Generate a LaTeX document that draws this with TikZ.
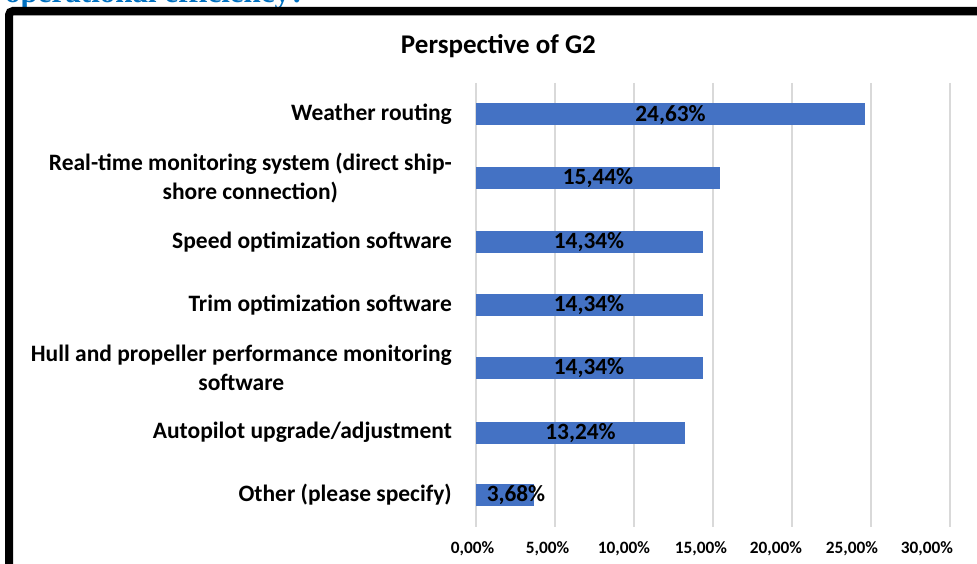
\documentclass[tikz,border=0pt]{standalone}
\usepackage{fontspec}
\setmainfont{Carlito}
\newfontfamily\serifb{Liberation Serif}
\definecolor{barblue}{HTML}{4472C4}
\definecolor{gridgray}{HTML}{D9D9D9}
\definecolor{toptext}{HTML}{0070C0}
\definecolor{framegray}{HTML}{A0A0A0}
\tikzset{
  cat/.style={font=\fontsize{23.5}{29}\selectfont\bfseries, align=center, anchor=east, inner sep=0pt},
  val/.style={font=\fontsize{23.3}{27}\selectfont\bfseries, inner sep=0pt},
  tick/.style={font=\fontsize{17.3}{20}\selectfont\bfseries, inner sep=0pt},
  barfill/.style={fill=barblue},
  gridline/.style={draw=gridgray, line width=1.5pt},
}
\begin{document}
\begin{tikzpicture}[x=1pt,y=-1pt]
\useasboundingbox (0,0) rectangle (977,564);
% cut-off question text
\node[anchor=base west, inner sep=0pt, font=\serifb\bfseries\fontsize{31}{34}\selectfont, text=toptext] (question) at (5,2.5) {operational efficiency?};
% frame
\draw[framegray, line width=1pt] (13,15.5) -- (980,15.5);
\draw[black, line width=8pt, rounded corners=4pt] (9,570) -- (9,11) -- (985,11);
% title
\node[font=\fontsize{27}{30}\selectfont\bfseries, inner sep=0pt] (title) at (498.5,46) {Perspective of G2};
% gridlines
\foreach \i in {0,...,6} {
  \draw[gridline] ({476+79*\i},83) -- ({476+79*\i},527);
}
% tick labels
\node[tick] (t0) at (472.5,549) {0,00\%};
\node[tick] (t1) at (547.5,549) {5,00\%};
\node[tick] (t2) at (624,549) {10,00\%};
\node[tick] (t3) at (701,549) {15,00\%};
\node[tick] (t4) at (776,549) {20,00\%};
\node[tick] (t5) at (852,549) {25,00\%};
\node[tick] (t6) at (927,549) {30,00\%};
% bars
\fill[barfill] (476,103.5) rectangle (865,125.5);
\fill[barfill] (476,167) rectangle (720,189);
\fill[barfill] (476,231) rectangle (702.5,253);
\fill[barfill] (476,294) rectangle (702.5,316);
\fill[barfill] (476,357) rectangle (702.5,379);
\fill[barfill] (476,421.5) rectangle (685,443.5);
\fill[barfill] (476,484) rectangle (534,506);
% value labels
\node[val] (v1) at (670.5,115) {24,63\%};
\node[val] (v2) at (598,178.5) {15,44\%};
\node[val] (v3) at (589,242.5) {14,34\%};
\node[val] (v4) at (589,305.5) {14,34\%};
\node[val] (v5) at (589,368.5) {14,34\%};
\node[val] (v6) at (580.5,433) {13,24\%};
\node[val] (v7) at (516,495.5) {3,68\%};
% category labels
\node[cat] (c1) at (452,114.5) {Weather routing};
\node[cat] (c2) at (452,178) {Real-time monitoring system (direct ship-\\shore connection)};
\node[cat] (c3) at (452,242) {Speed optimization software};
\node[cat] (c4) at (452,305) {Trim optimization software};
\node[cat] (c5) at (452,368) {Hull and propeller performance monitoring\\software};
\node[cat] (c6) at (452,432) {Autopilot upgrade/adjustment};
\node[cat] (c7) at (452,495) {Other (please specify)};
\end{tikzpicture}
\end{document}
